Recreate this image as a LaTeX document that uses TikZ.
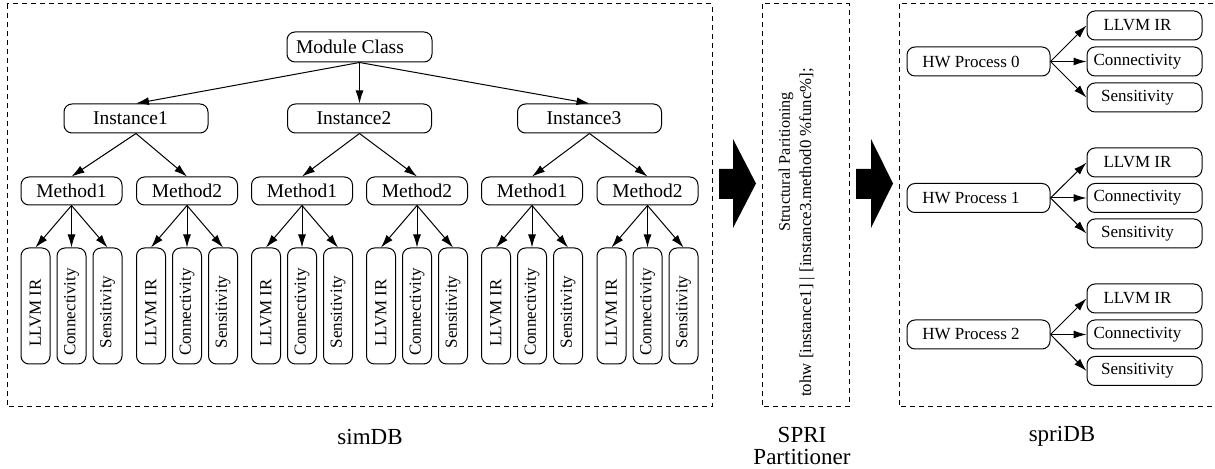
\documentclass[tikz,border=0pt]{standalone}
\usepackage{fontspec}
\setmainfont{Liberation Serif}
\usetikzlibrary{arrows.meta}
\tikzset{
  box/.style={draw, rounded corners=4pt, inner sep=0pt, line width=0.5pt},
  bigbox/.style={box, minimum height=14.5pt, font=\fontsize{9.75}{11}\selectfont},
  smallbox/.style={box, minimum height=14.5pt, font=\fontsize{8.5}{10}\selectfont},
  leafbox/.style={smallbox, rotate=90, minimum width=58pt},
  offset/.style={execute at end node={\kern#1pt}},
  frame/.style={line width=0.5pt, dash pattern=on 2.5pt off 2pt},
  edge/.style={line width=0.5pt, -{Latex[length=6.5pt,width=4pt]}},
  caption/.style={font=\fontsize{11.5}{11}\selectfont, align=center}
}
\begin{document}
\begin{tikzpicture}[x=0.5pt,y=-0.5pt]
      \useasboundingbox (0,0) rectangle (1215,469);
      \draw[frame] (7,4) rectangle (712,407);
      \draw[frame] (762,4) rectangle (849,407);
      \draw[frame] (899,4) rectangle (1220,407);
      \fill (719,169) -- (733,169) -- (733,139) -- (756,183.5) -- (733,228) -- (733,199) -- (719,199) -- cycle;
      \fill (856,169) -- (871,169) -- (871,139) -- (893,183.5) -- (871,228) -- (871,199) -- (856,199) -- cycle;
      \draw
        (370,437) node[caption] (simcap){simDB}
        (802,446) node[caption] (spricap){SPRI\\Partitioner}
        (1062,436) node[caption] (spridbcap){spriDB};
      \draw
        (786,162) node[rotate=90, font=\fontsize{8.1}{10}\selectfont] (sp){Structural Paritioning}
        (807,232.5) node[rotate=90, font=\fontsize{8.4}{10}\selectfont] (rule){tohw [instance1] | [instance3.method0 \%func\%];};
      \draw
        (359.5,47) node[bigbox, offset=9.5, minimum width=72.5pt, minimum height=15pt] (mc){Module Class}
        (136,118.5) node[bigbox, offset=5.5, minimum width=72pt] (i1){Instance1}
        (359.5,118.5) node[bigbox, offset=5.5, minimum width=72pt] (i2){Instance2}
        (589.5,118.5) node[bigbox, offset=5.5, minimum width=72pt] (i3){Instance3}
        (71.5,191) node[bigbox, minimum width=50.5pt, minimum height=14pt] (m11){Method1}
        (187,191) node[bigbox, minimum width=50.5pt, minimum height=14pt] (m12){Method2}
        (302,191) node[bigbox, minimum width=50.5pt, minimum height=14pt] (m21){Method1}
        (417,191) node[bigbox, minimum width=50.5pt, minimum height=14pt] (m22){Method2}
        (532,191) node[bigbox, minimum width=50.5pt, minimum height=14pt] (m31){Method1}
        (647.5,191) node[bigbox, minimum width=50.5pt, minimum height=14pt] (m32){Method2};
      \draw
        (35.5,306) node[leafbox, offset=7] (l11a){LLVM IR}
        (71.5,306) node[leafbox, offset=6] (l11b){Connectivity}
        (107.5,306) node[leafbox, offset=6] (l11c){Sensitivity}
        (151,306) node[leafbox, offset=7] (l12a){LLVM IR}
        (187,306) node[leafbox, offset=6] (l12b){Connectivity}
        (223,306) node[leafbox, offset=6] (l12c){Sensitivity}
        (266,306) node[leafbox, offset=7] (l21a){LLVM IR}
        (302,306) node[leafbox, offset=6] (l21b){Connectivity}
        (338,306) node[leafbox, offset=6] (l21c){Sensitivity}
        (381,306) node[leafbox, offset=7] (l22a){LLVM IR}
        (417,306) node[leafbox, offset=6] (l22b){Connectivity}
        (453,306) node[leafbox, offset=6] (l22c){Sensitivity}
        (496,306) node[leafbox, offset=7] (l31a){LLVM IR}
        (532,306) node[leafbox, offset=6] (l31b){Connectivity}
        (568,306) node[leafbox, offset=6] (l31c){Sensitivity}
        (611.5,306) node[leafbox, offset=7] (l32a){LLVM IR}
        (647.5,306) node[leafbox, offset=6] (l32b){Connectivity}
        (683.5,306) node[leafbox, offset=6] (l32c){Sensitivity};
      \draw
        (978.5,61.5) node[smallbox, offset=7.5, minimum width=71.5pt] (hw0){HW Process 0}
        (978.5,198) node[smallbox, offset=7.5, minimum width=71.5pt] (hw1){HW Process 1}
        (978.5,334.5) node[smallbox, offset=7.5, minimum width=71.5pt] (hw2){HW Process 2}
        (1144.5,25.5) node[smallbox, offset=7, minimum width=57.5pt] (h0a){LLVM IR}
        (1144.5,61.5) node[smallbox, offset=7, minimum width=57.5pt] (h0b){Connectivity}
        (1144.5,97.5) node[smallbox, offset=7, minimum width=57.5pt] (h0c){Sensitivity}
        (1144.5,162.5) node[smallbox, offset=7, minimum width=57.5pt] (h1a){LLVM IR}
        (1144.5,198) node[smallbox, offset=7, minimum width=57.5pt] (h1b){Connectivity}
        (1144.5,233.5) node[smallbox, offset=7, minimum width=57.5pt] (h1c){Sensitivity}
        (1144.5,298.5) node[smallbox, offset=7, minimum width=57.5pt] (h2a){LLVM IR}
        (1144.5,334.5) node[smallbox, offset=7, minimum width=57.5pt] (h2b){Connectivity}
        (1144.5,371) node[smallbox, offset=7, minimum width=57.5pt] (h2c){Sensitivity};
      \begin{scope}[edge]
        \draw (mc.south) to (i1.north);
        \draw (mc.south) to (i2.north);
        \draw (mc.south) to (i3.north);
        \draw (i1.south) to (m11.north);
        \draw (i1.south) to (m12.north);
        \draw (i2.south) to (m21.north);
        \draw (i2.south) to (m22.north);
        \draw (i3.south) to (m31.north);
        \draw (i3.south) to (m32.north);
        \draw (m11.south) to (l11a.east);
        \draw (m11.south) to (l11b.east);
        \draw (m11.south) to (l11c.east);
        \draw (m12.south) to (l12a.east);
        \draw (m12.south) to (l12b.east);
        \draw (m12.south) to (l12c.east);
        \draw (m21.south) to (l21a.east);
        \draw (m21.south) to (l21b.east);
        \draw (m21.south) to (l21c.east);
        \draw (m22.south) to (l22a.east);
        \draw (m22.south) to (l22b.east);
        \draw (m22.south) to (l22c.east);
        \draw (m31.south) to (l31a.east);
        \draw (m31.south) to (l31b.east);
        \draw (m31.south) to (l31c.east);
        \draw (m32.south) to (l32a.east);
        \draw (m32.south) to (l32b.east);
        \draw (m32.south) to (l32c.east);
        \draw (hw0.east) to (h0a.west);
        \draw (hw0.east) to (h0b.west);
        \draw (hw0.east) to (h0c.west);
        \draw (hw1.east) to (h1a.west);
        \draw (hw1.east) to (h1b.west);
        \draw (hw1.east) to (h1c.west);
        \draw (hw2.east) to (h2a.west);
        \draw (hw2.east) to (h2b.west);
        \draw (hw2.east) to (h2c.west);
      \end{scope}
    \end{tikzpicture}
\end{document}
